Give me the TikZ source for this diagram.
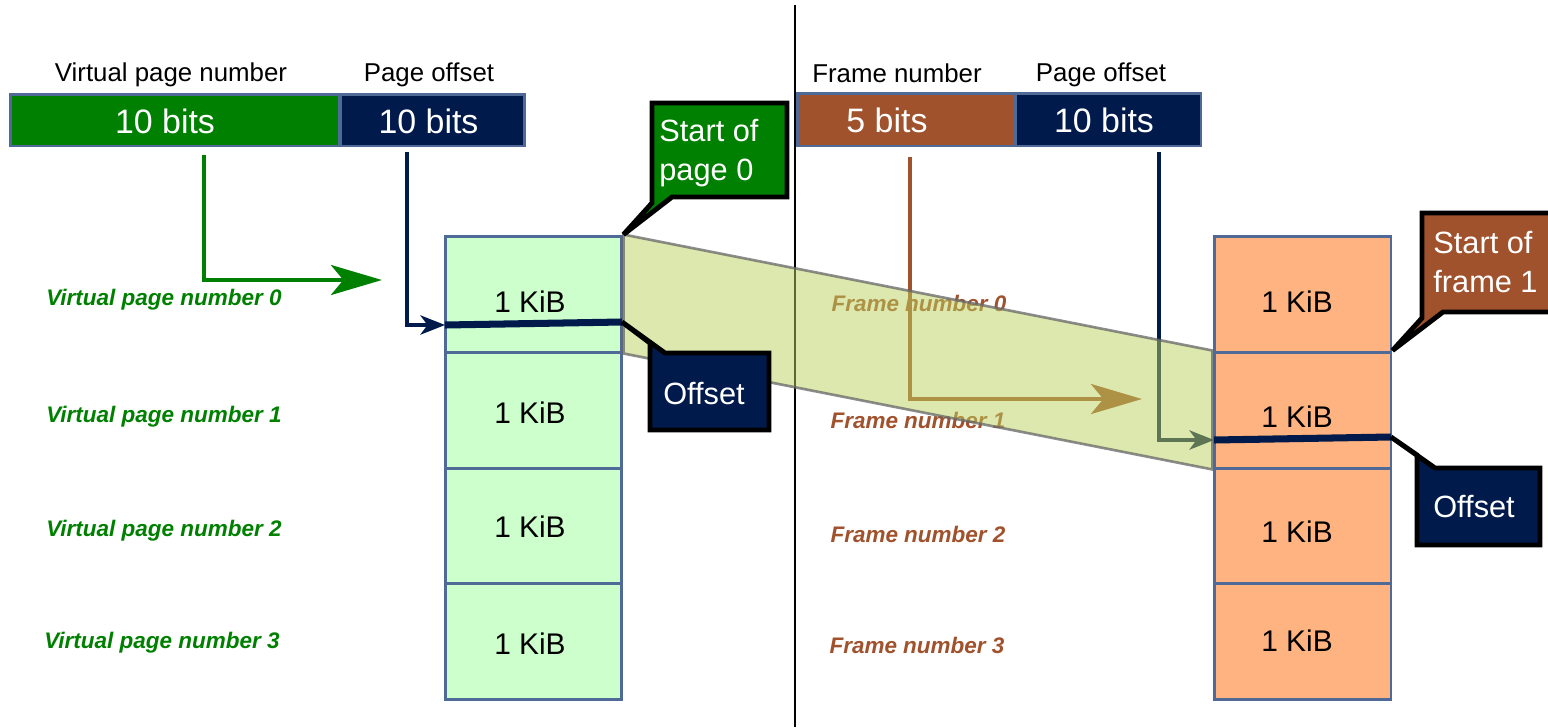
\documentclass[tikz,border=0pt]{standalone}
\usepackage{fontspec}
\setmainfont{Liberation Sans}
\usetikzlibrary{arrows.meta,calc}
\definecolor{vgreen}{HTML}{008000}
\definecolor{navy}{HTML}{001A4B}
\definecolor{sienna}{HTML}{A0522D}
\definecolor{cellgreen}{HTML}{CCFFCC}
\definecolor{cellorange}{HTML}{FFB380}
\definecolor{edgeblue}{HTML}{4F6A96}
\definecolor{bandfill}{HTML}{BBD15D}
\begin{document}
\begin{tikzpicture}[x=0.02cm,y=-0.02cm,
  field/.style={draw=edgeblue,line width=1.7pt,inner sep=0pt},
  fieldtext/.style={text=white,font=\fontsize{19.3}{23}\selectfont,inner sep=0pt},
  toplabel/.style={font=\fontsize{14.7}{17}\selectfont,inner sep=0pt},
  cell/.style={draw=edgeblue,line width=1.7pt,minimum width=3.54cm,minimum height=2.32cm,inner sep=0pt},
  kib/.style={font=\fontsize{17}{20}\selectfont,inner sep=0pt},
  vlabel/.style={text=vgreen,font=\fontsize{12.8}{15}\selectfont\bfseries\itshape,inner sep=0pt},
  flabel/.style={text=sienna,font=\fontsize{12.8}{15}\selectfont\bfseries\itshape,inner sep=0pt},
  callout/.style={draw=black,line width=2.8pt,line join=miter},
  callouttext/.style={text=white,font=\fontsize{17.5}{22.3}\selectfont,align=left,inner sep=0pt},
  bigarrow/.style={line width=2.8pt,-{Stealth[length=29pt,width=17pt,inset=7pt]}},
  smallarrow/.style={line width=2pt,-{Stealth[length=14pt,width=11pt,inset=4pt]}},
  offline/.style={draw=navy,line width=4pt}
]
\clip (0,0) rectangle (1548,727);
\useasboundingbox (0,0) rectangle (1548,727);

% divider
\draw[line width=0.6pt] (795,5) -- (795,727);

% top labels
\node[toplabel] (lvpn) at (171,75) {Virtual page number};
\node[toplabel] (lpo) at (429,75) {Page offset};
\node[toplabel] (lfn) at (897,73) {Frame number};
\node[toplabel] (rpo) at (1101,75) {Page offset};

% fields
\node[field,fill=vgreen,minimum width=6.6cm,minimum height=1.04cm] (vpn) at (175,120) {};
\node[field,fill=navy,minimum width=3.7cm,minimum height=1.04cm] (voff) at (432.5,120) {};
\node[fieldtext] (vpnt) at (165,121) {10 bits};
\node[fieldtext] (vofft) at (428.5,121) {10 bits};
\node[field,fill=sienna,minimum width=4.36cm,minimum height=1.06cm] (fn) at (906,119.5) {};
\node[field,fill=navy,minimum width=3.72cm,minimum height=1.06cm] (foff) at (1108,119.5) {};
\node[fieldtext] (fnt) at (887,120) {5 bits};
\node[fieldtext] (fofft) at (1104,120) {10 bits};

% left labels
\node[vlabel] (v0) at (164,300) {Virtual page number 0};
\node[vlabel] (v1) at (164,417) {Virtual page number 1};
\node[vlabel] (v2) at (164,531) {Virtual page number 2};
\node[vlabel] (v3) at (162,643) {Virtual page number 3};
% right labels
\node[flabel] (f0) at (919,303) {Frame number 0};
\node[flabel] (f1) at (918,420) {Frame number 1};
\node[flabel] (f2) at (918,534) {Frame number 2};
\node[flabel] (f3) at (917,645) {Frame number 3};

% cells
\node[cell,fill=cellgreen] (L1) at (533.5,294) {};
\node[cell,fill=cellgreen] (L2) at (533.5,410) {};
\node[cell,fill=cellgreen] (L3) at (533.5,526) {};
\node[cell,fill=cellgreen] (L4) at (533.5,641.5) {};
\node[cell,fill=cellorange] (R1) at (1302.5,294.5) {};
\node[cell,fill=cellorange] (R2) at (1302.5,410) {};
\node[cell,fill=cellorange] (R3) at (1302.5,526) {};
\node[cell,fill=cellorange] (R4) at (1302.5,641.5) {};
\node[kib] (L1t) at (530,302) {1 KiB};
\node[kib] (L2t) at (530,413) {1 KiB};
\node[kib] (L3t) at (530,527) {1 KiB};
\node[kib] (L4t) at (530,644) {1 KiB};
\node[kib] (R1t) at (1297,302) {1 KiB};
\node[kib] (R2t) at (1297,417) {1 KiB};
\node[kib] (R3t) at (1297,532) {1 KiB};
\node[kib] (R4t) at (1297,641) {1 KiB};

% connector coordinates
\coordinate (g0) at (204,155);
\coordinate (gtip) at (382,280);
\coordinate (n0) at (407,152);
\coordinate (loff) at (445,325);
\coordinate (loffend) at (622,322);
\coordinate (b0) at (910,157);
\coordinate (btip) at (1142,399);
\coordinate (r0) at (1159,152);
\coordinate (roff) at (1214,440);
\coordinate (roffend) at (1391,437);

% arrows
\draw[bigarrow,vgreen] (g0) |- (gtip);
\draw[smallarrow,navy] (n0) |- (loff);
\draw[bigarrow,sienna] (b0) |- (btip);
\draw[smallarrow,navy] (r0) |- (roff);

% band
\path[fill=bandfill,fill opacity=0.5,draw=black!60,draw opacity=0.75,line width=1.5pt]
  (L1.north east) -- (R2.north west) -- (R2.south west) -- (L1.south east) -- cycle;

% offset lines
\draw[offline] (loff) -- (loffend);
\draw[offline] (roff) -- (roffend);

% callouts
\draw[callout,fill=vgreen] (652,103) -- (787,103) -- (787,197) -- (672,197) -- (L1.north east) -- (652,203) -- cycle;
\node[callouttext,anchor=west] (c1) at (659,153) {Start of\\page 0};
\draw[callout,fill=navy] (loffend) -- (665,353) -- (769,353) -- (769,430) -- (650,430) -- (650,343) -- cycle;
\node[callouttext] (c2) at (704,394) {Offset};
\draw[callout,fill=sienna] (1422,213) -- (1570,213) -- (1570,312) -- (1443,312) -- (R2.north east) -- (1422,318) -- cycle;
\node[callouttext,anchor=west] (c3) at (1433,262) {Start of\\frame 1};
\draw[callout,fill=navy] (roffend) -- (1435,468) -- (1540,468) -- (1540,545) -- (1417,545) -- (1417,455) -- cycle;
\node[callouttext] (c4) at (1474,507) {Offset};
\end{tikzpicture}
\end{document}
